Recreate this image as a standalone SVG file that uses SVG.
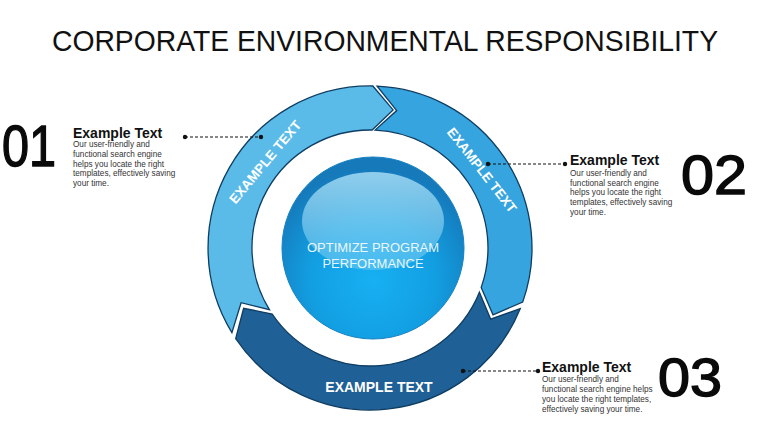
<svg xmlns="http://www.w3.org/2000/svg" width="760" height="428" viewBox="0 0 760 428">
<style>
.seg{stroke:#0f3d62;stroke-width:1.3;stroke-linejoin:miter}
.segtxt{font-family:"Liberation Sans",Arial,sans-serif;font-weight:bold;fill:#ffffff;text-anchor:middle}
.num{font-family:"Liberation Sans",Arial,sans-serif;fill:#0a0a0a;stroke:#0a0a0a;stroke-width:1.4}
.head{font-family:"Liberation Sans",Arial,sans-serif;font-weight:bold;font-size:14px;fill:#111}
.body{font-family:"Liberation Sans",Arial,sans-serif;font-size:8.2px;fill:#333}
.dash{stroke:#111;stroke-width:1.2;stroke-dasharray:3 2;fill:none}
.dot{fill:#111}
</style>
<defs>
<radialGradient id="sph" cx="50%" cy="68%" r="62%">
<stop offset="0" stop-color="#17b0f2"/>
<stop offset="0.55" stop-color="#129fe2"/>
<stop offset="1" stop-color="#1579ba"/>
</radialGradient>
<linearGradient id="hl" x1="0" y1="0" x2="0" y2="1">
<stop offset="0" stop-color="#a6dcf4" stop-opacity="0.85"/>
<stop offset="1" stop-color="#7fd0f4" stop-opacity="0.45"/>
</linearGradient>
</defs>
<rect width="760" height="428" fill="#ffffff"/>
<text x="52" y="51" font-family="'Liberation Sans',Arial,sans-serif" font-size="30" fill="#111" textLength="666" lengthAdjust="spacingAndGlyphs">CORPORATE ENVIRONMENTAL RESPONSIBILITY</text>

<g id="segment1">
<path class="seg" fill="#5abbe9" d="M231.9,332.6 A162,162 0 0 1 372.8,86.0 L393.1,109.9 L372.1,130.0 A118,118 0 0 0 269.4,309.7 L241.1,302.7 Z"/>
<text class="segtxt" font-size="13.5" transform="translate(265,162) rotate(-50)" y="4.8">EXAMPLE TEXT</text>
</g>
<g id="segment2">
<path class="seg" fill="#36a4de" d="M377.1,86.2 A162,162 0 0 1 522.7,302.1 L493.0,314.8 L481.2,287.4 A118,118 0 0 0 375.1,130.1 L396.7,110.6 Z"/>
<text class="segtxt" font-size="13.5" transform="translate(482,170) rotate(52)" y="4.8">EXAMPLE TEXT</text>
</g>
<g id="segment3">
<path class="seg" fill="#1f6096" d="M520.2,308.7 A162,162 0 0 1 235.7,338.6 L243.6,308.3 L272.2,314.0 A118,118 0 0 0 479.4,292.2 L490.6,319.1 Z"/>
<text class="segtxt" font-size="14" x="379" y="392">EXAMPLE TEXT</text>
</g>
<g id="center">
<circle cx="373" cy="248" r="91" fill="url(#sph)" stroke="#1682c4" stroke-width="1"/>
<ellipse cx="373" cy="221" rx="71" ry="49" fill="url(#hl)"/>
<text x="373" y="252" font-family="'Liberation Sans',Arial,sans-serif" font-size="13" fill="#ffffff" fill-opacity="0.9" text-anchor="middle">OPTIMIZE PROGRAM</text>
<text x="373" y="268" font-family="'Liberation Sans',Arial,sans-serif" font-size="13" fill="#ffffff" fill-opacity="0.9" text-anchor="middle">PERFORMANCE</text>
</g>

<g id="connectors">
<line class="dash" x1="185" y1="137" x2="261" y2="137"/>
<circle class="dot" cx="185" cy="137" r="2.2"/>
<circle class="dot" cx="261" cy="137" r="2.2"/>
<line class="dash" x1="488" y1="164" x2="565" y2="164"/>
<circle class="dot" cx="488" cy="164" r="2.2"/>
<circle class="dot" cx="565" cy="164" r="2.2"/>
<line class="dash" x1="463" y1="371" x2="538" y2="371"/>
<circle class="dot" cx="463" cy="371" r="2.2"/>
<circle class="dot" cx="538" cy="371" r="2.2"/>
</g>

<g id="item1">
<text class="num" x="2" y="166" font-size="57" textLength="54" lengthAdjust="spacingAndGlyphs">01</text>
<text class="head" x="73" y="138">Example Text</text>
<text class="body" x="73" y="147">Our user-friendly  and</text>
<text class="body" x="73" y="156.8">functional search engine</text>
<text class="body" x="73" y="166.6">helps you locate the right</text>
<text class="body" x="73" y="176.4">templates, effectively saving</text>
<text class="body" x="73" y="186.2">your time.</text>
</g>
<g id="item2">
<text class="num" x="681" y="194" font-size="55" textLength="66" lengthAdjust="spacingAndGlyphs">02</text>
<text class="head" x="570" y="165">Example Text</text>
<text class="body" x="570" y="175.7">Our user-friendly  and</text>
<text class="body" x="570" y="185.5">functional search engine</text>
<text class="body" x="570" y="195.3">helps you locate the right</text>
<text class="body" x="570" y="205.1">templates, effectively saving</text>
<text class="body" x="570" y="214.9">your time.</text>
</g>
<g id="item3">
<text class="num" x="658" y="396" font-size="54" textLength="64" lengthAdjust="spacingAndGlyphs">03</text>
<text class="head" x="542" y="372">Example Text</text>
<text class="body" x="542" y="382.3">Our user-friendly  and</text>
<text class="body" x="542" y="392.3">functional search engine helps</text>
<text class="body" x="542" y="402.3">you locate the right templates,</text>
<text class="body" x="542" y="412.3">effectively  saving your time.</text>
</g>
</svg>
